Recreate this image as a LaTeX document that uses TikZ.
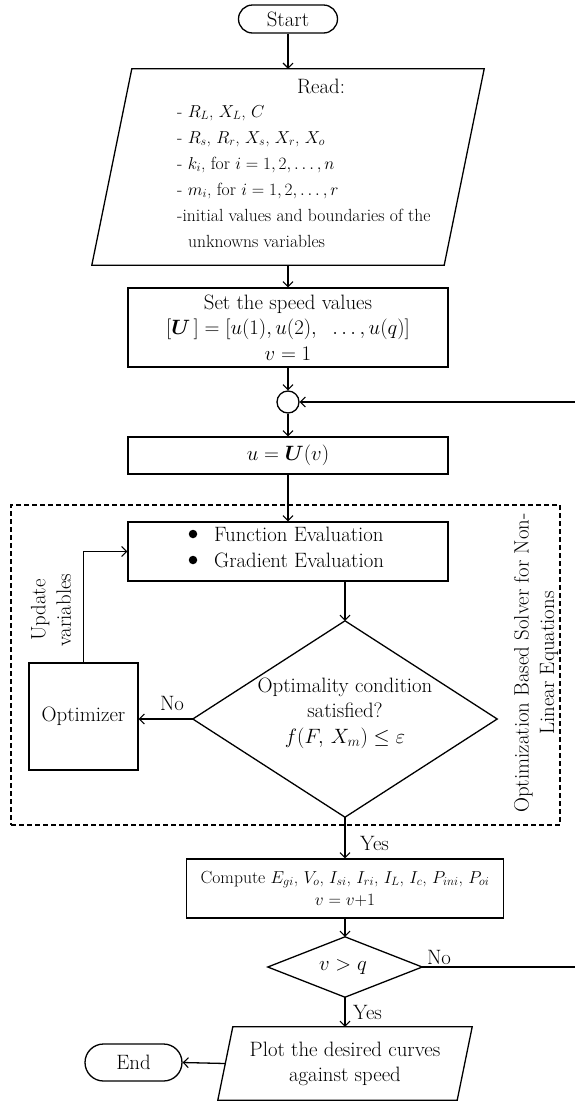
\documentclass[tikz,border=0pt]{standalone}
\usepackage{amsmath,bm}
\usetikzlibrary{arrows.meta}
\newcommand\mfont{\fontsize{20.8}{25.5}\selectfont}
\newcommand\lfont{\fontsize{17.6}{26}\selectfont}
\newcommand\cfont{\fontsize{17.6}{22}\selectfont}
\tikzset{
  lw/.style={line width=1.3pt},
  pbox/.style={draw, lw, rectangle, align=center, inner sep=0pt, font=\mfont},
  term/.style={draw, lw, rectangle, inner sep=0pt, font=\mfont},
  ghost/.style={rectangle, inner sep=0pt, draw=none},
  bulletdot/.style={circle, fill, inner sep=0pt, minimum size=8.5pt},
  arr/.style={lw, -{Straight Barb[length=5pt,width=10pt,line width=1.1pt]}},
  lab/.style={inner sep=0pt, font=\mfont},
  lst/.style={inner sep=0pt, font=\lfont, anchor=base west},
}
\begin{document}
\begin{tikzpicture}[x=1pt,y=-1pt]
\useasboundingbox (0,0) rectangle (574,1101);
% Start
\node[term, minimum width=99pt, minimum height=28pt, rounded corners=14pt] (start) at (288,19) {Start};
% Read parallelogram
\node[ghost, minimum width=392pt, minimum height=196pt] (read) at (288,167) {};
\draw[lw] ([xshift=40pt]read.north west) -- (read.north east) -- ([xshift=-40pt]read.south east) -- (read.south west) -- cycle;
\node[lab, anchor=base] (readt) at (321,93) {Read:};
\node[lst] (r1) at (177,117) {- $R_L$, $X_L$, $C$};
\node[lst] (r2) at (177,143) {- $R_s$, $R_r$, $X_s$, $X_r$, $X_o$};
\node[lst] (r3) at (177,169) {- $k_i$, for $i = 1, 2, \ldots, n$};
\node[lst] (r4) at (177,195) {- $m_i$, for $i = 1, 2, \ldots, r$};
\node[lst] (r5) at (177,221) {-initial values and boundaries of the};
\node[lst] (r6) at (188,247) {unknowns variables};
% Speed values
\node[pbox, minimum width=320pt, minimum height=79pt] (speed) at (288,327.5)
  {Set the speed values\\ $[\boldsymbol{U}\,] = [u(1), u(2),\;\ \ldots, u(q)]$\\ $v = 1$};
% join circle
\node[circle, draw, lw, inner sep=0pt, minimum size=22pt] (join) at (288,402) {};
% u = U(v)
\node[pbox, minimum width=320pt, minimum height=37pt] (uset) at (288,455.5) {$u = \boldsymbol{U}(v)$};
% dashed solver region
\node[ghost, draw, line width=1.2pt, dash pattern=on 5pt off 3pt, minimum width=549pt, minimum height=320pt] (solver) at (285.5,665) {};
\node[lab, rotate=90, align=center] (solverlab) at (536,663) {Optimization Based Solver for Non-\\Linear Equations};
% function evaluation
\node[pbox, minimum width=320pt, minimum height=59pt] (fun) at (288,551.5) {};
\node[lab, align=left, anchor=west] (funt) at (214,547.5) {Function Evaluation\\ Gradient Evaluation};
\node[bulletdot] (bul1) at (193,534) {};
\node[bulletdot] (bul2) at (193,560) {};
% optimality diamond
\node[ghost, minimum width=304pt, minimum height=196pt] (dia) at (345,719) {};
\draw[lw] (dia.north) -- (dia.east) -- (dia.south) -- (dia.west) -- cycle;
\node[lab, align=center] (diat) at (345,713) {Optimality condition\\ satisfied?\\ $f(F,\, X_m) \le \varepsilon$};
% optimizer
\node[pbox, minimum width=109pt, minimum height=107pt] (opt) at (83.5,716.5) {Optimizer};
\node[lab, rotate=90, align=center] (updlab) at (51,610) {Update\\variables};
% compute
\node[pbox, font=\cfont, minimum width=317pt, minimum height=59pt] (comp) at (345,888.5)
  {Compute $E_{gi}$, $V_o$, $I_{si}$, $I_{ri}$, $I_L$, $I_c$, $P_{ini}$, $P_{oi}$\\ $v = v{+}1$};
% v > q diamond
\node[ghost, minimum width=154pt, minimum height=60pt] (vq) at (345,967) {};
\draw[lw] (vq.north) -- (vq.east) -- (vq.south) -- (vq.west) -- cycle;
\node[lab] (vqt) at (343,967) {$v > q$};
% plot parallelogram
\node[ghost, minimum width=254pt, minimum height=73pt] (plot) at (345,1063.5) {};
\draw[lw] ([xshift=15pt]plot.north west) -- (plot.north east) -- ([xshift=-15pt]plot.south east) -- (plot.south west) -- cycle;
\node[lab, align=center] (plott) at (345,1064) {Plot the desired curves\\ against speed};
% end
\node[term, minimum width=97pt, minimum height=37pt, rounded corners=18.5pt] (end) at (133.5,1062.5) {End};
% loop coordinates
\coordinate (loopA) at (578,967);
\coordinate (loopB) at (578,402);
\coordinate (plotleft) at ([xshift=7.5pt]plot.west);
% connectors
\draw[arr] (start.south) -- (start.south |- read.north);
\draw[arr] (read.south) -- (speed.north);
\draw[arr] (speed.south) -- (join.north);
\draw[arr] (join.south) -- (uset.north);
\draw[arr] (uset.south) -- (fun.north);
\draw[arr] (dia.north |- fun.south) -- (dia.north);
\draw[arr] (dia.west) -- (dia.west -| opt.east);
\node[lab] (nolab1) at (172,703) {No};
\draw[arr] (opt.north) |- (fun.west);
\draw[arr] (dia.south) -- (comp.north);
\node[lab, anchor=west] (yeslab1) at (360,843) {Yes};
\draw[arr] (comp.south) -- (vq.north);
\draw[arr] (vq.south) -- (vq.south |- plot.north);
\node[lab, anchor=west] (yeslab2) at (353,1012) {Yes};
\draw[arr] (vq.east) -- (loopA) -- (loopB) -- (join.east);
\node[lab] (nolab2) at (439,957) {No};
\draw[arr] (plotleft) -- (end.east);
\end{tikzpicture}
\end{document}
